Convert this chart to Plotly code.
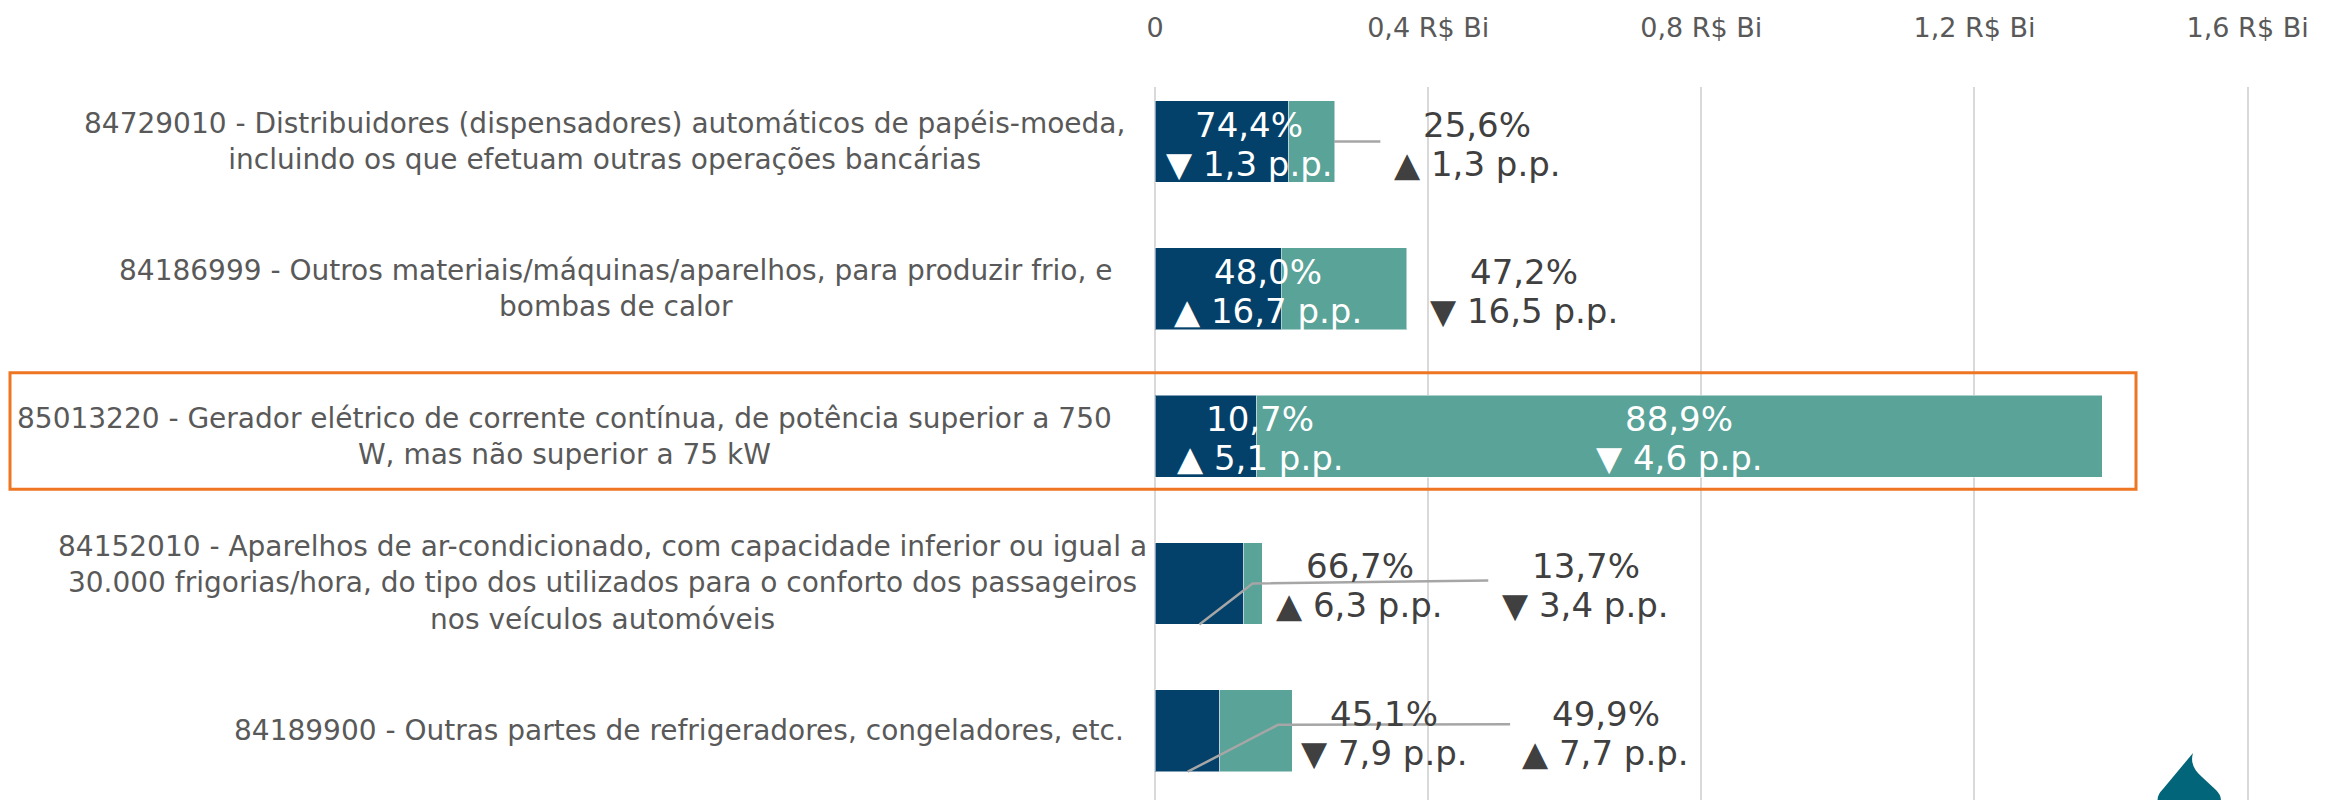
import plotly.graph_objects as go

# ---------------- data ----------------
codes = ["84729010", "84186999", "85013220", "84152010", "84189900"]
descriptions = [
    "84729010 - Distribuidores (dispensadores) automáticos de papéis-moeda,<br>incluindo os que efetuam outras operações bancárias",
    "84186999 - Outros materiais/máquinas/aparelhos, para produzir frio, e<br>bombas de calor",
    "85013220 - Gerador elétrico de corrente contínua, de potência superior a 750<br>W, mas não superior a 75 kW",
    "84152010 - Aparelhos de ar-condicionado, com capacidade inferior ou igual a<br>30.000 frigorias/hora, do tipo dos utilizados para o conforto dos passageiros<br>nos veículos automóveis",
    "84189900 - Outras partes de refrigeradores, congeladores, etc.",
]
dark_values = [0.196, 0.185, 0.149, 0.130, 0.095]   # R$ Bi
teal_values = [0.067, 0.184, 1.238, 0.027, 0.106]   # R$ Bi
dark_share = [74.4, 48.0, 10.7, 66.7, 45.1]
dark_delta = [-1.3, 16.7, 5.1, 6.3, -7.9]
teal_share = [25.6, 47.2, 88.9, 13.7, 49.9]
teal_delta = [1.3, -16.5, -4.6, -3.4, 7.7]
tick_vals = [0, 0.4, 0.8, 1.2, 1.6]
tick_text = ["0", "0,4 R$ Bi", "0,8 R$ Bi", "1,2 R$ Bi", "1,6 R$ Bi"]
highlight = "85013220"

# label placement (x in R$ Bi), as in the reference layout
dark_label_x = [0.138, 0.166, 0.154, 0.300, 0.336]
teal_label_x = [0.472, 0.540, 0.768, 0.631, 0.660]
# right edge (page px) of each category description block
desc_right_px = [1127, 1115, 1114, 1149, 1126]

# ---------------- style ----------------
DARK = "#03416A"
TEAL = "#59A399"
GRID = "#D9D9D9"
TXT = "#404040"
LBL = "#595959"
FONT = "DejaVu Sans"

W, H = 2334, 800
ML, MR, MT, MB = 1155, 85, 87, 0
pw = W - ML - MR
ph = H - MT - MB


def fmt(v):
    return f"{v:.1f}".replace(".", ",")


fig = go.Figure()
fig.add_trace(go.Bar(y=codes, x=dark_values, orientation="h",
                     marker=dict(color=DARK, line=dict(color="rgba(255,255,255,0.5)", width=1)),
                     hoverinfo="skip", showlegend=False))
fig.add_trace(go.Bar(y=codes, x=teal_values, orientation="h",
                     marker=dict(color=TEAL, line=dict(color="rgba(255,255,255,0.5)", width=1)),
                     hoverinfo="skip", showlegend=False))

annotations = []
for i, c in enumerate(codes):
    total = dark_values[i] + teal_values[i]
    for lx, sh, dl in ((dark_label_x[i], dark_share[i], dark_delta[i]),
                       (teal_label_x[i], teal_share[i], teal_delta[i])):
        col = "white" if lx < total else TXT
        arrow = "▲" if dl > 0 else "▼"
        for txt, ys in ((f"{fmt(sh)}%", 17), (f"{arrow} {fmt(abs(dl))} p.p.", -22)):
            annotations.append(dict(x=lx, y=i, xref="x", yref="y", text=txt, showarrow=False,
                                    xanchor="center", yanchor="middle", yshift=ys,
                                    font=dict(family=FONT, size=34, color=col)))
    annotations.append(dict(x=(desc_right_px[i] - ML) / pw, y=i, xref="paper", yref="y", text=descriptions[i],
                            showarrow=False, align="center", xanchor="right", yanchor="middle",
                            font=dict(family=FONT, size=28, color=LBL)))

shapes = []
# leader lines (Excel-style connectors)
leaders = {
    0: [(0.262, 0.0), (0.330, 0.0)],
    3: [(0.065, 0.278), (0.143, 0.0), (0.488, -0.02)],
    4: [(0.048, 0.278), (0.180, -0.04), (0.197, -0.04), (0.520, -0.045)],
}
for idx, pts in leaders.items():
    path = "M " + " L ".join(f"{x},{idx + dy}" for x, dy in pts)
    shapes.append(dict(type="path", path=path, xref="x", yref="y",
                       line=dict(color="#A6A6A6", width=2.5), layer="above"))

# highlight box around the selected product
hi = codes.index(highlight)
shapes.append(dict(type="rect", xref="paper", yref="y",
                   x0=(10 - ML) / pw, x1=(2136 - ML) / pw, y0=hi - 0.43, y1=hi + 0.36,
                   line=dict(color="#EE7623", width=3), fillcolor="rgba(0,0,0,0)", layer="above"))


# small logo drop at bottom right
def P(x, y):
    return f"{(x - ML) / pw:.5f},{1 - (y - MT) / ph:.5f}"


logo = (f"M {P(2193,753)} Q {P(2189,766)} {P(2202,777)} L {P(2216,790)} Q {P(2224,798)} {P(2219,806)} "
        f"L {P(2160,806)} Q {P(2154,798)} {P(2163,789)} Z")
shapes.append(dict(type="path", path=logo, xref="paper", yref="paper", fillcolor="#02657A",
                   line=dict(width=0), layer="above"))

fig.update_layout(
    width=W, height=H,
    margin=dict(l=ML, r=MR, t=MT, b=MB, pad=0),
    paper_bgcolor="white", plot_bgcolor="white",
    barmode="stack", bargap=0.444,
    font=dict(family=FONT, color=LBL),
    annotations=annotations, shapes=shapes,
    xaxis=dict(side="top", range=[0, 1.602], tickvals=tick_vals, ticktext=tick_text,
               showgrid=True, gridcolor=GRID, gridwidth=2, zeroline=True, zerolinecolor=GRID, zerolinewidth=2,
               ticks="", ticklabelstandoff=44, tickfont=dict(family=FONT, size=27, color=LBL), fixedrange=True),
    yaxis=dict(type="category", categoryorder="array", categoryarray=codes, range=[4.47, -0.37],
               showticklabels=False, showgrid=False, zeroline=False, ticks="", fixedrange=True),
)

fig.write_html("out.html", config={"displayModeBar": False, "staticPlot": True},
               post_script="document.body.style.margin='0';document.body.style.overflow='hidden';")
